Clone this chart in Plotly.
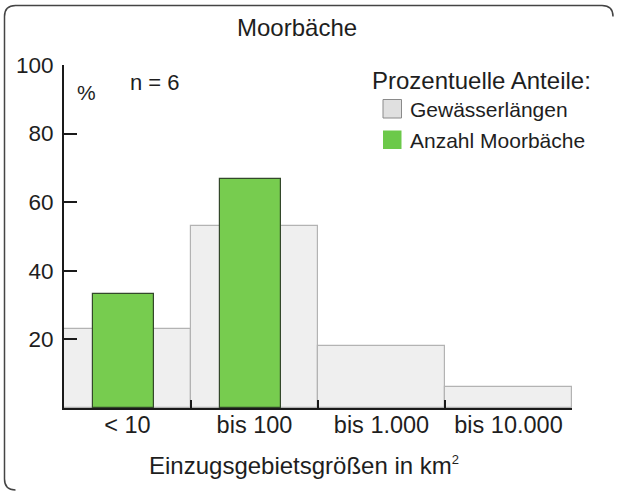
import plotly.graph_objects as go

categories = ["< 10", "bis 100", "bis 1.000", "bis 10.000"]
gewaesserlaengen = [23, 53, 18, 6]
anzahl_moorbaeche = [33.3, 66.7, 0, 0]
y_ticks = [20, 40, 60, 80, 100]

W_TOT, H_TOT = 617, 492
L, R, T, B = 64, 45, 65, 84
PW = W_TOT - L - R
PH = H_TOT - T - B


def px(x):
    return (x - L) / PW


def py(y):
    return (H_TOT - B - y) / PH


FONT = "Liberation Sans, Arial, sans-serif"
TXT = "#1e1e1e"

# only non-zero counts are drawn as bars (no zero-height outlines)
green_x = [c for c, v in zip(categories, anzahl_moorbaeche) if v > 0]
green_y = [v for v in anzahl_moorbaeche if v > 0]

fig = go.Figure()
fig.add_trace(go.Bar(
    x=categories, y=gewaesserlaengen, width=1,
    marker=dict(color="#efefef", line=dict(color="#b3b3b3", width=1.2)),
    name="Gewässerlängen", showlegend=False, hoverinfo="skip",
))
fig.add_trace(go.Bar(
    x=green_x, y=green_y, width=0.478, offset=-0.272,
    marker=dict(color="#77cc4f", line=dict(color="#33482a", width=1.2)),
    name="Anzahl Moorbäche", showlegend=False, hoverinfo="skip",
))

# border (rounded frame)
r = 11
xl, yt, xr, yb = 4.5, 5.5, 613, 490
path = (
    f"M {px(xl+r)},{py(yb)} Q {px(xl)},{py(yb)} {px(xl)},{py(yb-r)} "
    f"L {px(xl)},{py(yt+r)} Q {px(xl)},{py(yt)} {px(xl+r)},{py(yt)} "
    f"L {px(xr-r)},{py(yt)} Q {px(xr)},{py(yt)} {px(xr)},{py(yt+r)}"
)
shapes = [dict(type="path", xref="paper", yref="paper", path=path,
               line=dict(color="#444444", width=1.5))]

# legend squares
shapes.append(dict(type="rect", xref="paper", yref="paper",
                   x0=px(383), x1=px(401.5), y0=py(99.5), y1=py(118),
                   fillcolor="#e0e0e0", line=dict(color="#8a8a8a", width=1)))
shapes.append(dict(type="rect", xref="paper", yref="paper",
                   x0=px(383), x1=px(401.5), y0=py(130.5), y1=py(149),
                   fillcolor="#6cc94a", line=dict(color="#6cc94a", width=0)))

annotations = [
    dict(text="Moorbäche", x=px(296.5), y=py(28), xanchor="center", yanchor="middle",
         font=dict(size=24, color=TXT)),
    dict(text="%", x=px(86.5), y=py(92), xanchor="center", yanchor="middle",
         font=dict(size=21, color=TXT)),
    dict(text="n = 6", x=px(155), y=py(82), xanchor="center", yanchor="middle",
         font=dict(size=22, color=TXT)),
    dict(text="Prozentuelle Anteile:", x=px(370), y=py(80), xanchor="left", yanchor="middle",
         font=dict(size=24, color=TXT)),
    dict(text="Gewässerlängen", x=px(408), y=py(109), xanchor="left", yanchor="middle",
         font=dict(size=21, color=TXT)),
    dict(text="Anzahl Moorbäche", x=px(408), y=py(140), xanchor="left", yanchor="middle",
         font=dict(size=21, color=TXT)),
    dict(text="Einzugsgebietsgrößen in km<sup><span style='font-size:13px'>2</span></sup>",
         x=px(304), y=py(465), xanchor="center", yanchor="middle",
         font=dict(size=24, color=TXT)),
]
for a in annotations:
    a.update(xref="paper", yref="paper", showarrow=False)

fig.update_layout(
    width=W_TOT, height=H_TOT,
    margin=dict(l=L, r=R, t=T, b=B, pad=0),
    paper_bgcolor="white", plot_bgcolor="white",
    barmode="overlay", bargap=0,
    font=dict(family=FONT, color=TXT),
    showlegend=False,
    shapes=shapes, annotations=annotations,
    xaxis=dict(
        type="category", range=[-0.5, 3.5], showline=True, linecolor="#1a1a1a", linewidth=2,
        ticks="inside", tickson="boundaries", ticklen=8, tickwidth=2, tickcolor="#1a1a1a",
        showgrid=False, zeroline=False, tickfont=dict(size=23.5, color=TXT),
        ticklabelstandoff=-5, fixedrange=True,
    ),
    yaxis=dict(
        range=[0, 100], tickvals=y_ticks, showline=True, linecolor="#1a1a1a", linewidth=2,
        ticks="inside", ticklen=13, tickwidth=2, tickcolor="#1a1a1a",
        showgrid=False, zeroline=False, tickfont=dict(size=22.5, color=TXT),
        ticklabelstandoff=4, fixedrange=True,
    ),
)

fig.write_html(
    "out.html",
    config={"displayModeBar": False},
    post_script="document.body.style.margin='0';document.body.style.overflow='hidden';",
)
